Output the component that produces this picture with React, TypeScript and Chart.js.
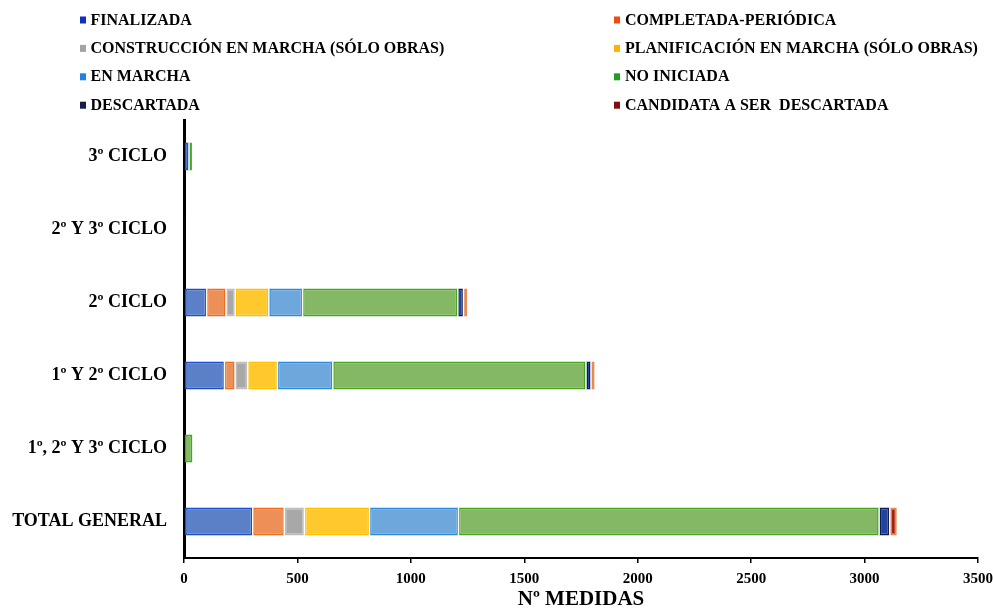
import React, { useEffect, useRef } from "react";
import { Chart, registerables } from "chart.js";

Chart.register(...registerables);

// Categories (top to bottom)
const categories = [
  "3º CICLO",
  "2º Y 3º CICLO",
  "2º CICLO",
  "1º Y 2º CICLO",
  "1º, 2º Y 3º CICLO",
  "TOTAL GENERAL",
];

// Number of measures per status
const finalizada = [22, null, 100, 178, null, 303];
const completadaPeriodica = [null, null, 85, 47, null, 139];
const construccionEnMarcha = [null, null, 41, 56, null, 89];
const planificacionEnMarcha = [null, null, 148, 131, null, 287];
const enMarcha = [null, null, 149, 244, null, 392];
const noIniciada = [13, 4, 684, 1116, 37, 1854];
const descartada = [null, null, 25, 22, null, 47];
const candidataDescartada = [null, null, 16, 16, null, 31];

const seriesNames = [
  "FINALIZADA",
  "COMPLETADA-PERIÓDICA",
  "CONSTRUCCIÓN EN MARCHA (SÓLO OBRAS)",
  "PLANIFICACIÓN EN MARCHA (SÓLO OBRAS)",
  "EN MARCHA",
  "NO INICIADA",
  "DESCARTADA",
  "CANDIDATA A SER  DESCARTADA",
];

const seriesValues = [
  finalizada,
  completadaPeriodica,
  construccionEnMarcha,
  planificacionEnMarcha,
  enMarcha,
  noIniciada,
  descartada,
  candidataDescartada,
];

const xTicks = [0, 500, 1000, 1500, 2000, 2500, 3000, 3500];

const fills = ["#5b80c8", "#ec9058", "#a8a8a8", "#ffc92e", "#6ea7dc", "#85b864", "#22449a", "#a3230f"];
const borders = ["#1a4fcc", "#f26a1c", "#bdbdbd", "#ffbf00", "#2a8ae0", "#45a71c", "#0c1a5e", "#e58a55"];
const markers = ["#1030c4", "#f24a16", "#a3a3a3", "#ffb200", "#1e84e0", "#1f9e1f", "#141c4c", "#7e1010"];

const SERIF = "'Liberation Serif', 'Times New Roman', serif";

// Two-column legend drawn above the plot
const legendPlugin = {
  id: "twoColumnLegend",
  afterDraw(chart: any) {
    const ctx = chart.ctx;
    ctx.save();
    ctx.font = `bold 16px ${SERIF}`;
    ctx.textBaseline = "middle";
    ctx.textAlign = "left";
    const colMarker = [80, 614];
    const colText = [90.5, 625];
    chart.data.datasets.forEach((ds: any, i: number) => {
      const col = i % 2;
      const row = Math.floor(i / 2);
      const y = 20 + row * 28.4;
      ctx.fillStyle = markers[i];
      ctx.fillRect(colMarker[col], y - 3.5, 6, 7);
      ctx.fillStyle = "#000";
      ctx.fillText(ds.label, colText[col], y + 0.5);
    });
    ctx.restore();
  },
};

// Thin white gaps between stacked segments
const segmentGapPlugin = {
  id: "segmentGaps",
  afterDatasetsDraw(chart: any) {
    const ctx = chart.ctx;
    ctx.save();
    ctx.strokeStyle = "#ffffff";
    ctx.lineWidth = 1.5;
    const n = chart.data.datasets.length;
    for (let d = 0; d < n - 1; d++) {
      const meta = chart.getDatasetMeta(d);
      meta.data.forEach((el: any, idx: number) => {
        const v = chart.data.datasets[d].data[idx];
        if (!v) return;
        // only draw a gap if something is stacked after it
        let later = false;
        for (let k = d + 1; k < n; k++) {
          if (chart.data.datasets[k].data[idx]) later = true;
        }
        if (!later) return;
        const h = el.height;
        ctx.beginPath();
        ctx.moveTo(el.x, el.y - h / 2);
        ctx.lineTo(el.x, el.y + h / 2);
        ctx.stroke();
      });
    }
    ctx.restore();
  },
};

export default function App() {
  const canvasRef = useRef<HTMLCanvasElement | null>(null);

  useEffect(() => {
    document.body.style.margin = "0";
    const canvas = canvasRef.current;
    if (!canvas) return;

    const chart = new Chart(canvas, {
      type: "bar",
      data: {
        labels: categories,
        datasets: seriesValues.map((vals, i) => ({
          label: seriesNames[i],
          data: vals,
          backgroundColor: fills[i],
          borderColor: borders[i],
          borderWidth: 2,
          borderSkipped: false,
          categoryPercentage: 1,
          barPercentage: 0.384,
        })),
      },
      options: {
        indexAxis: "y",
        animation: false,
        responsive: true,
        maintainAspectRatio: false,
        events: [],
        layout: { padding: { top: 120, left: 0, right: 0, bottom: 0 } },
        plugins: {
          legend: { display: false },
          tooltip: { enabled: false },
        },
        scales: {
          x: {
            stacked: true,
            min: 0,
            max: 3500,
            afterBuildTicks: (scale: any) => {
              scale.ticks = xTicks.map((v) => ({ value: v }));
            },
            afterFit: (scale: any) => {
              scale.height = 54;
              scale.paddingRight = 15;
            },
            grid: {
              display: true,
              drawOnChartArea: false,
              drawTicks: true,
              tickLength: 5,
              color: "#000",
              lineWidth: 1.5,
            },
            border: { display: true, color: "#000", width: 2 },
            ticks: {
              color: "#000",
              padding: 7,
              maxRotation: 0,
              callback: (value: any) => String(value),
              font: { family: SERIF, size: 15, weight: "bold" },
            },
            title: {
              display: true,
              text: "Nº MEDIDAS",
              color: "#000",
              padding: { top: 0, bottom: 0 },
              font: { family: SERIF, size: 21, weight: "bold" },
            },
          },
          y: {
            stacked: true,
            afterFit: (scale: any) => {
              scale.width = 184;
            },
            grid: { display: true, drawOnChartArea: false, drawTicks: false },
            border: { display: true, color: "#000", width: 3 },
            ticks: {
              color: "#000",
              padding: 17,
              font: { family: SERIF, size: 18, weight: "bold" },
            },
          },
        },
      },
      plugins: [legendPlugin, segmentGapPlugin],
    } as any);

    return () => chart.destroy();
  }, []);

  return (
    <div style={{ position: "relative", width: 993, height: 612, background: "#fff" }}>
      <canvas ref={canvasRef} style={{ display: "block" }} />
    </div>
  );
}
